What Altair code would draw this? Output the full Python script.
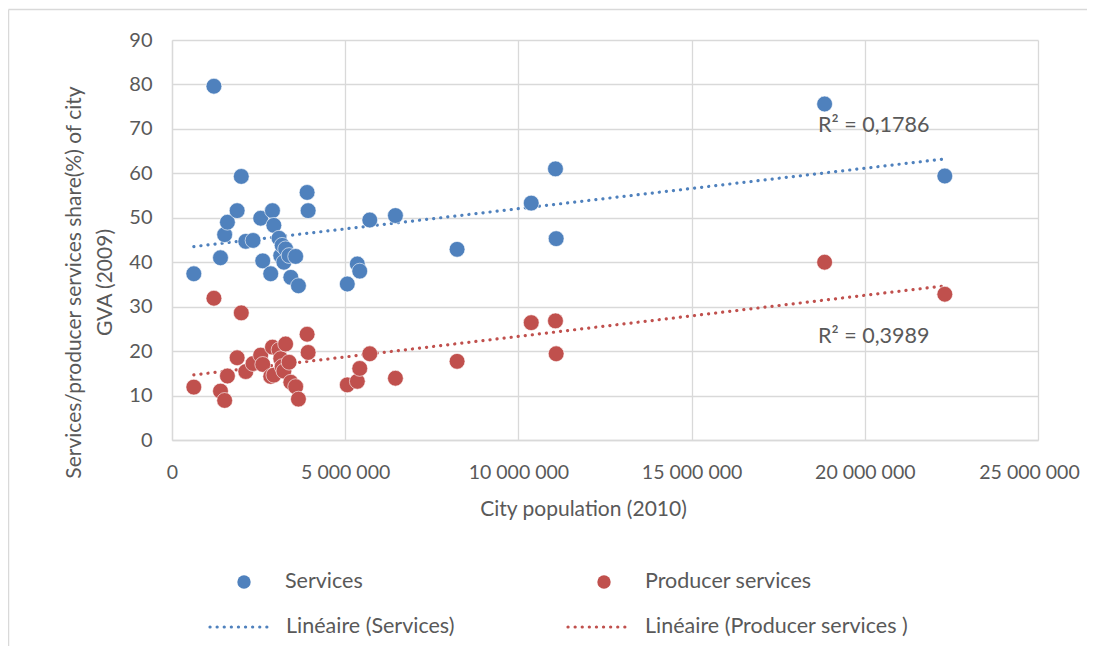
import altair as alt
import pandas as pd

# City population (2010)
population = [630000, 1210000, 1400000, 1520000, 1600000, 1880000, 2000000, 2130000,
              2340000, 2560000, 2620000, 2850000, 2900000, 2940000, 3090000, 3140000,
              3180000, 3230000, 3280000, 3380000, 3430000, 3570000, 3650000, 3900000,
              3930000, 5060000, 5350000, 5420000, 5710000, 6450000, 8230000, 10370000,
              11070000, 11090000, 18840000, 22310000]
# Services share (%) of city GVA (2009)
services = [37.4, 79.6, 41.0, 46.2, 49.0, 51.6, 59.3, 44.7,
            44.9, 49.9, 40.3, 37.4, 51.6, 48.3, 45.4, 41.5,
            43.8, 40.0, 43.0, 41.5, 36.6, 41.3, 34.7, 55.7,
            51.6, 35.1, 39.6, 38.0, 49.5, 50.5, 42.9, 53.3,
            61.0, 45.3, 75.6, 59.4]
# Producer services share (%) of city GVA (2009)
producer = [11.9, 31.9, 11.0, 8.9, 14.4, 18.5, 28.6, 15.4,
            17.2, 19.1, 17.0, 14.3, 20.9, 14.6, 20.3, 18.3,
            16.5, 15.5, 21.6, 17.5, 13.0, 12.0, 9.2, 23.8,
            19.7, 12.4, 13.2, 16.1, 19.4, 13.9, 17.7, 26.4,
            26.8, 19.4, 40.0, 32.8]

series_names = ["Services", "Producer services"]
series_colors = ["#4F81BD", "#C0504D"]

r2_labels = ["R² = 0,1786", "R² = 0,3989"]
r2_x = [20260000, 20260000]
r2_y = [70.7, 23.1]

x_ticks = [0, 5000000, 10000000, 15000000, 20000000, 25000000]
y_ticks = [0, 10, 20, 30, 40, 50, 60, 70, 80, 90]

FONT = "Lato"
TXT = "#595959"
GRID = "#D9D9D9"

df = pd.DataFrame({
    "population": population * 2,
    "share": services + producer,
    "series": [series_names[0]] * len(services) + [series_names[1]] * len(producer),
})

color = alt.Color("series:N", scale=alt.Scale(domain=series_names, range=series_colors), legend=None)

x_enc = alt.X("population:Q",
              scale=alt.Scale(domain=[0, 25000000], nice=False, zero=True),
              axis=alt.Axis(values=x_ticks, format=",d", title="City population (2010)",
                            grid=True, gridColor=GRID, gridWidth=1.3,
                            domainColor=GRID, domainWidth=1.3, ticks=False,
                            labelPadding=23, titlePadding=17, labelFlush=False,
                            labelOffset={"condition": {"test": "datum.value >= 25000000", "value": -9}, "value": 0},
                            labelFont=FONT, labelFontSize=19.5, labelColor=TXT,
                            titleFont=FONT, titleFontSize=21, titleColor=TXT,
                            titleFontWeight="normal", titleAlign="center", titleX=411))
y_enc = alt.Y("share:Q",
              scale=alt.Scale(domain=[0, 90], nice=False),
              axis=alt.Axis(values=y_ticks, title=["Services/producer services share(%) of city", "GVA (2009)"],
                            grid=True, gridColor=GRID, gridWidth=1.3,
                            domainColor=GRID, domainWidth=1.3, ticks=False,
                            labelPadding=20, labelFlush=False,
                            labelFont=FONT, labelFontSize=20, labelColor=TXT,
                            titleFont=FONT, titleFontSize=21, titleColor=TXT,
                            titleFontWeight="normal", titleLineHeight=31,
                            titleAngle=270, titleAlign="center", titleBaseline="middle",
                            titleX=-98, titleY=242))

trend = alt.Chart(df).transform_regression(
    "population", "share", groupby=["series"]
).mark_line(strokeDash=[0.1, 7], strokeWidth=3.2, strokeCap="round").encode(
    x=x_enc, y=y_enc, color=color)

points = alt.Chart(df).mark_circle(size=250, opacity=1, stroke="white", strokeWidth=0.6).encode(
    x="population:Q", y="share:Q", color=color)

r2_df = pd.DataFrame({"x": r2_x, "y": r2_y, "label": r2_labels})
r2 = alt.Chart(r2_df).mark_text(font=FONT, fontSize=21.5, color=TXT, align="center", baseline="middle").encode(
    x="x:Q", y="y:Q", text="label:N")

# legend (drawn below the plot)
one = pd.DataFrame({"k": [0]})
def dot(px, col):
    return alt.Chart(one).mark_circle(size=180, opacity=1, color=col).encode(
        x=alt.value(px), y=alt.value(542))
def dline(px1, px2, col):
    return alt.Chart(one).mark_rule(strokeDash=[0.1, 7], strokeWidth=3.2, strokeCap="round", color=col).encode(
        x=alt.value(px1), x2=alt.value(px2), y=alt.value(587))
def label(px, py, txt):
    return alt.Chart(one).mark_text(font=FONT, fontSize=21.5, color=TXT, align="left", baseline="middle").encode(
        x=alt.value(px), y=alt.value(py), text=alt.value(txt))

legend = [
    dot(72, series_colors[0]), label(113, 542, "Services"),
    dot(432, series_colors[1]), label(473, 542, "Producer services"),
    dline(38, 100, series_colors[0]), label(114, 587, "Linéaire (Services)"),
    dline(396, 459, series_colors[1]), label(473, 587, "Linéaire (Producer services )"),
]

# outer chart frame (top and left edges)
frame_top = alt.Chart(one).mark_rule(color=GRID, strokeWidth=1.5).encode(
    x=alt.value(-163.5), x2=alt.value(1000), y=alt.value(-30.5))
frame_left = alt.Chart(one).mark_rule(color=GRID, strokeWidth=1.5).encode(
    x=alt.value(-163.5), y=alt.value(-30.5), y2=alt.value(800))

chart = alt.layer(frame_top, frame_left, trend, points, r2, *legend).properties(
    width=866, height=400,
    autosize=alt.AutoSizeParams(type="none"),
    padding={"left": 164, "top": 32, "right": 49, "bottom": 206},
    background="white",
).configure_view(strokeWidth=0)

chart.save("out.html", embed_options={
    "renderer": "svg", "actions": False,
    "formatLocale": {"decimal": ",", "thousands": " ", "grouping": [3], "currency": ["", ""]},
})
